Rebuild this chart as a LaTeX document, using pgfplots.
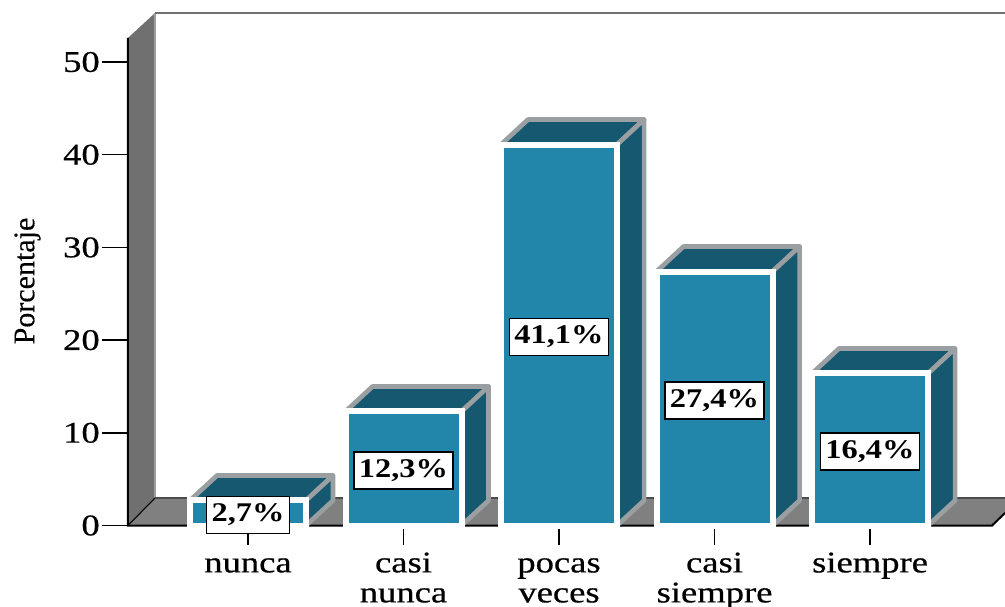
\documentclass[border=0pt]{standalone}
\usepackage{fontspec}
\setmainfont[FakeStretch=1.2]{Liberation Serif}
\newfontfamily\tickfont[FakeStretch=1.22,FakeBold=0.6]{Liberation Serif}
\newfontfamily\yfont[FakeBold=0.3]{Liberation Serif}
\usepackage{pgfplots}
\pgfplotsset{compat=1.18}
\definecolor{barfront}{HTML}{2186A9}
\definecolor{bardark}{HTML}{16586F}
\definecolor{baredge}{HTML}{9A9FA2}
\definecolor{wallgrey}{HTML}{707070}
\definecolor{floorgrey}{HTML}{808080}
\pgfplotsset{face/.style={fill=bardark,draw=baredge,line width=3.5pt,line join=round}}
\begin{document}
\begin{tikzpicture}
% 1px = 0.75pt, page fixed to 1005x606
\useasboundingbox (-96pt,-60.375pt) rectangle (657.75pt,394.125pt);
\begin{axis}[
    scale only axis,
    width=657.75pt,
    height=384.375pt,
    xmin=-0.7717, xmax=4.868,
    ymin=0, ymax=55.29,
    clip=false,
    axis line style={draw=none},
    tick pos=left,
    tick align=outside,
    major tick length=19.5pt,
    x tick style={black,line width=1.1pt,yshift=4.9pt},
    y tick style={black,line width=1.1pt},
    xtick={0,1,2,3,4},
    xticklabels={\strut nunca,{\strut casi\\nunca},{\strut pocas\\veces},{\strut casi\\siempre},\strut siempre},
    ytick={0,10,20,30,40,50},
    /pgf/number format/assume math mode=true,
    tick label style={font=\tickfont\fontsize{22.5pt}{22.5pt}\selectfont},
    xticklabel style={align=center,inner sep=0pt,yshift=0.3pt},
    yticklabel style={inner sep=0pt,xshift=-1.5pt},
    ylabel={Porcentaje},
    every axis y label/.style={at={(axis description cs:-0.1146,0.477)},rotate=90,anchor=center,
        font=\yfont\fontsize{22.5pt}{22.5pt}\selectfont},
]
% walls and floor
\addplot[fill=wallgrey,draw=none] coordinates {(-0.7717,0) (-0.7717,52.6) (-0.598,55.29) (-0.598,2.97)} -- cycle;
\addplot[fill=floorgrey,draw=none] coordinates {(-0.7717,0) (-0.598,2.97) (4.868,2.97) (4.868,1.35) (4.785,0)} -- cycle;
\addplot[color=baredge,line width=1.5pt] coordinates {(-0.598,2.97) (-0.598,55.29)};
\addplot[color=wallgrey,line width=1.5pt] coordinates {(-0.598,55.29) (4.868,55.29)};
\addplot[color=black!70,line width=1pt] coordinates {(-0.598,2.97) (4.868,2.97)};
\addplot[color=black,line width=1.5pt] coordinates {(-0.7717,52.6) (-0.7717,0) (4.785,0) (4.868,1.35)};
\addplot[color=black,line width=0.8pt] coordinates {(-0.7717,0) (-0.598,2.97)};
% bar tops
\addplot[face] coordinates {(-0.373,2.7) (-0.199,5.4) (0.547,5.4) (0.373,2.7)} -- cycle;
\addplot[face] coordinates {(0.627,12.3) (0.801,15) (1.547,15) (1.373,12.3)} -- cycle;
\addplot[face] coordinates {(1.627,41.1) (1.801,43.8) (2.547,43.8) (2.373,41.1)} -- cycle;
\addplot[face] coordinates {(2.627,27.4) (2.801,30.1) (3.547,30.1) (3.373,27.4)} -- cycle;
\addplot[face] coordinates {(3.627,16.4) (3.801,19.1) (4.547,19.1) (4.373,16.4)} -- cycle;
% bar sides
\addplot[face] coordinates {(0.373,2.7) (0.547,5.4) (0.547,2.7) (0.373,0)} -- cycle;
\addplot[face] coordinates {(1.373,12.3) (1.547,15) (1.547,2.7) (1.373,0)} -- cycle;
\addplot[face] coordinates {(2.373,41.1) (2.547,43.8) (2.547,2.7) (2.373,0)} -- cycle;
\addplot[face] coordinates {(3.373,27.4) (3.547,30.1) (3.547,2.7) (3.373,0)} -- cycle;
\addplot[face] coordinates {(4.373,16.4) (4.547,19.1) (4.547,2.7) (4.373,0)} -- cycle;
% bar fronts
\addplot[ybar,bar width=87pt,fill=barfront,draw=white,line width=4.5pt]
    coordinates {(0,2.7) (1,12.3) (2,41.1) (3,27.4) (4,16.4)};
% value labels, centred on half height
\addplot[draw=none,mark=none,point meta=explicit symbolic,
    nodes near coords,
    nodes near coords style={anchor=center,yshift=-1.5pt,fill=white,draw=black,line width=1.1pt,
        font=\bfseries\fontsize{20.25pt}{20.25pt}\selectfont,
        inner xsep=3.75pt,inner ysep=0pt,minimum height=27.75pt}]
    coordinates {(0,1.35)[2,7\%] (1,6.15)[12,3\%] (2,20.55)[41,1\%] (3,13.7)[27,4\%] (4,8.2)[16,4\%]};
\end{axis}
\end{tikzpicture}
\end{document}
